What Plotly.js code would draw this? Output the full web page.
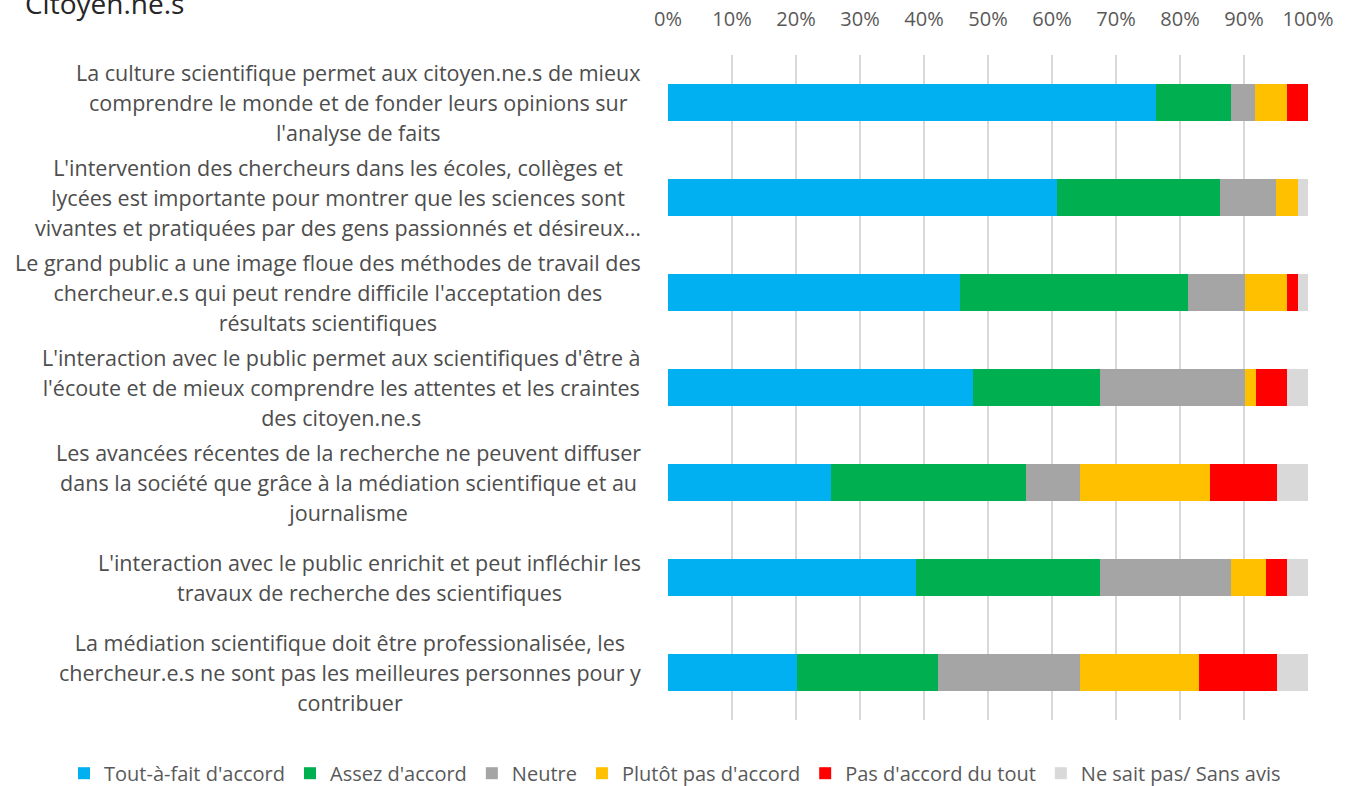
<!DOCTYPE html>
<html>
<head>
<meta charset="utf-8">
<script src="https://cdn.plot.ly/plotly-3.0.1.min.js"></script>
<style>
html,body{margin:0;padding:0;background:#fff;}
#chart{width:1350px;height:786px;}
</style>
</head>
<body>
<div id="chart"></div>
<script>
// Statements (top to bottom), each given as its wrapped lines
const statements = [
  ["La culture scientifique permet aux citoyen.ne.s de mieux", "comprendre le monde et de fonder leurs opinions sur", "l'analyse de faits"],
  ["L'intervention des chercheurs dans les écoles, collèges et", "lycées est importante pour montrer que les sciences sont", "vivantes et pratiquées par des gens passionnés et désireux…"],
  ["Le grand public a une image floue des méthodes de travail des", "chercheur.e.s qui peut rendre difficile l'acceptation des", "résultats scientifiques"],
  ["L'interaction avec le public permet aux scientifiques d'être à", "l'écoute et de mieux comprendre les attentes et les craintes", "des citoyen.ne.s"],
  ["Les avancées récentes de la recherche ne peuvent diffuser", "dans la société que grâce à la médiation scientifique et au", "journalisme"],
  ["L'interaction avec le public enrichit et peut infléchir les", "travaux de recherche des scientifiques"],
  ["La médiation scientifique doit être professionalisée, les", "chercheur.e.s ne sont pas les meilleures personnes pour y", "contribuer"]
];

const seriesNames = ["Tout-à-fait d'accord", "Assez d'accord", "Neutre", "Plutôt pas d'accord", "Pas d'accord du tout", "Ne sait pas/ Sans avis"];
const seriesColors = ["#00B0F0", "#00B050", "#A5A5A5", "#FFC000", "#FF0000", "#D9D9D9"];

// Percentages per statement (same order as statements)
const toutAFait   = [76.3, 60.8, 45.6, 47.6, 25.5, 38.8, 20.1];
const assez       = [11.7, 25.4, 35.7, 19.9, 30.5, 28.7, 22.1];
const neutre      = [3.75, 8.8, 8.8, 22.6, 8.3, 20.5, 22.1];
const plutotPas   = [4.95, 3.4, 6.6, 1.7, 20.4, 5.4, 18.7];
const pasDuTout   = [3.3, 0, 1.7, 4.9, 10.4, 3.3, 12.1];
const neSaitPas   = [0, 1.6, 1.6, 3.3, 4.9, 3.3, 4.9];

const xTicks = [0, 10, 20, 30, 40, 50, 60, 70, 80, 90, 100];

const categories = statements.map(l => l.join(" "));
const seriesValues = [toutAFait, assez, neutre, plutotPas, pasDuTout, neSaitPas];

const data = seriesValues.map((vals, i) => ({
  type: "bar",
  orientation: "h",
  name: seriesNames[i],
  y: categories,
  x: vals,
  marker: {color: seriesColors[i], line: {width: 0}},
  hoverinfo: "x+name"
}));

const annotations = statements.map((lines, i) => ({
  xref: "x", x: 0, xanchor: "right", xshift: -25,
  yref: "y", y: i, yanchor: "middle",
  align: "center",
  showarrow: false,
  text: lines.map(l => '<span style="font-size:21.5px">' + l + '</span>').join("<br>"),
  font: {family: "Open Sans", size: 23, color: "#4d4d4d"}
}));

const layout = {
  width: 1350, height: 786,
  paper_bgcolor: "#ffffff", plot_bgcolor: "#ffffff",
  margin: {l: 0, r: 0, t: 55, b: 66, autoexpand: false},
  barmode: "stack",
  bargap: 0.61,
  title: {
    text: "Citoyen.ne.s",
    xref: "container", x: 0.0185, xanchor: "left",
    yref: "container", y: 0.995, yanchor: "middle",
    font: {family: "Open Sans", size: 28, color: "#262626"}
  },
  xaxis: {
    domain: [668 / 1350, 1308 / 1350],
    side: "top",
    range: [0, 100],
    tickvals: xTicks,
    ticktext: xTicks.map(v => v + "%"),
    showgrid: true, gridcolor: "#d9d9d9", gridwidth: 1.5,
    zeroline: false, showline: false,
    ticks: "outside", ticklen: 20, tickcolor: "rgba(0,0,0,0)",
    tickfont: {family: "Open Sans", size: 20, color: "#595959"},
    fixedrange: true
  },
  yaxis: {
    type: "category",
    autorange: "reversed",
    showticklabels: false,
    showgrid: false, zeroline: false, showline: false,
    fixedrange: true
  },
  legend: {
    orientation: "h",
    xref: "paper", x: 0.5, xanchor: "center",
    yref: "paper", y: -0.08, yanchor: "middle",
    font: {family: "Open Sans", size: 20, color: "#595959"},
    traceorder: "normal",
    itemclick: false, itemdoubleclick: false
  },
  annotations: annotations,
  showlegend: true
};

Plotly.newPlot("chart", data, layout, {displayModeBar: false, staticPlot: true});
</script>
</body>
</html>
